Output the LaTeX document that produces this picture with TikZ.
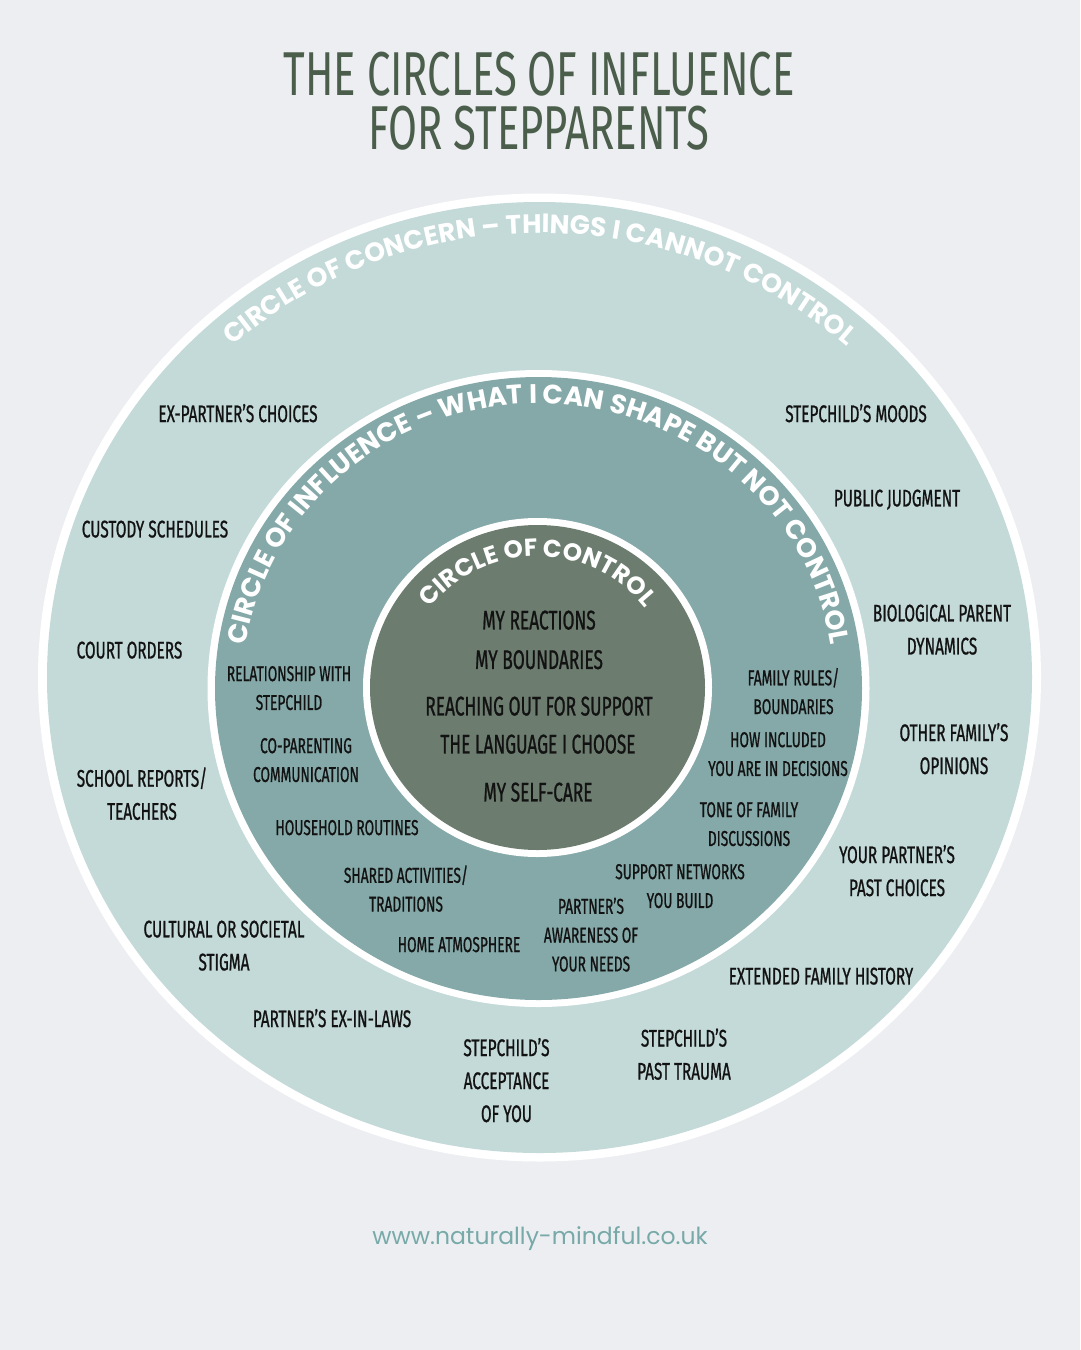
\documentclass[tikz,border=0pt]{standalone}
\usepackage{fontspec}
\usepackage{tikz}
\usetikzlibrary{decorations.text, calc}
\newfontfamily\bebas[FakeStretch=0.64, FakeBold=0.8]{Fira Sans}
\newfontfamily\titlefont[FakeStretch=0.675]{Fira Sans}
\newfontfamily\mont{Poppins}
\definecolor{pagebg}{RGB}{236,238,241}
\definecolor{concernfill}{RGB}{195,218,216}
\definecolor{influencefill}{RGB}{132,169,168}
\definecolor{controlfill}{RGB}{108,125,112}
\definecolor{titlegreen}{RGB}{74,94,75}
\definecolor{urlteal}{RGB}{120,169,169}
\definecolor{labelink}{RGB}{18,18,18}
\newcommand\arcfont{\mont\bfseries\color{white}}
\tikzset{
  concernlbl/.style={align=center, inner sep=0pt, text depth=0pt,
    text=labelink, font=\bebas\fontsize{24}{33}\selectfont},
  influencelbl/.style={align=center, inner sep=0pt, text depth=0pt,
    text=labelink, font=\bebas\fontsize{21.5}{28.8}\selectfont},
  controllbl/.style={inner sep=0pt, text depth=0pt,
    text=labelink, font=\bebas\fontsize{27}{27}\selectfont},
  arclbl/.style={decorate, decoration={text along path,
    text align=center, text={#1}}}
}

\begin{document}
\begin{tikzpicture}[x=1pt, y=1pt]

  \fill[pagebg] (0,0) rectangle (1080,-1350);

  % Title
  \node[font=\titlefont\fontsize{62}{54}\selectfont, text=titlegreen, align=center,
    text depth=0pt, inner sep=0pt] (title) at (539,-101)
    {THE CIRCLES OF INFLUENCE\\FOR STEPPARENTS};

  % The three circles
  \coordinate (concern) at (539.5,-677.5);
  \coordinate (influence) at (538.5,-688.5);
  \coordinate (control) at (537.5,-687.5);
  \fill[white] (concern) ellipse[x radius=501.5, y radius=484];
  \fill[concernfill] (concern) ellipse[x radius=492.5, y radius=475.5];
  \fill[white] (influence) ellipse[x radius=331, y radius=318.5];
  \fill[influencefill] (influence) ellipse[x radius=323.5, y radius=311.5];
  \fill[white] (control) ellipse[x radius=174.5, y radius=169.5];
  \fill[controlfill] (control) ellipse[x radius=167.5, y radius=162.5];

  % Curved headings
  \path[arclbl={|\arcfont\fontsize{26.5}{26.5}\selectfont|CIRCLE OF CONCERN – THINGS I CANNOT CONTROL}]
    ($(concern)+(180:461 and 444.5)$) arc[start angle=180, end angle=0, x radius=461, y radius=444.5];
  \path[arclbl={|\arcfont\fontsize{26.8}{26.8}\selectfont|CIRCLE OF INFLUENCE – WHAT I CAN SHAPE BUT NOT CONTROL}]
    ($(influence)+(190:296 and 285)$) arc[start angle=190, end angle=-10, x radius=296, y radius=285];
  \path[arclbl={|\arcfont\fontsize{24.5}{24.5}\selectfont|CIRCLE OF CONTROL}]
    ($(control)+(180:135 and 131)$) arc[start angle=180, end angle=0, x radius=135, y radius=131];

  % Circle of concern
  \node[concernlbl] (expartner) at (238,-413) {EX-PARTNER’S CHOICES};
  \node[concernlbl] (moods) at (856,-413) {STEPCHILD’S MOODS};
  \node[concernlbl] (judgment) at (897,-498) {PUBLIC JUDGMENT};
  \node[concernlbl] (custody) at (155,-529) {CUSTODY SCHEDULES};
  \node[concernlbl] (bioparent) at (942,-629.5) {BIOLOGICAL PARENT\\DYNAMICS};
  \node[concernlbl] (court) at (129.5,-650) {COURT ORDERS};
  \node[concernlbl] (opinions) at (954,-748.5) {OTHER FAMILY’S\\OPINIONS};
  \node[concernlbl] (school) at (142,-793.5) {SCHOOL REPORTS/\\TEACHERS};
  \node[concernlbl] (pastchoices) at (897,-870.5) {YOUR PARTNER’S\\PAST CHOICES};
  \node[concernlbl] (stigma) at (224,-945.5) {CULTURAL OR SOCIETAL\\STIGMA};
  \node[concernlbl] (history) at (821,-976) {EXTENDED FAMILY HISTORY};
  \node[concernlbl] (inlaws) at (332,-1018) {PARTNER’S EX-IN-LAWS};
  \node[concernlbl] (acceptance) at (506.5,-1080) {STEPCHILD’S\\ACCEPTANCE\\OF YOU};
  \node[concernlbl] (trauma) at (684,-1054) {STEPCHILD’S\\PAST TRAUMA};

  % Circle of influence
  \node[influencelbl] (relation) at (289,-688) {RELATIONSHIP WITH\\STEPCHILD};
  \node[influencelbl] (coparent) at (306,-760) {CO-PARENTING\\COMMUNICATION};
  \node[influencelbl] (routines) at (347,-827.5) {HOUSEHOLD ROUTINES};
  \node[influencelbl] (shared) at (406,-888.5) {SHARED ACTIVITIES/\\TRADITIONS};
  \node[influencelbl] (atmosphere) at (459,-944.5) {HOME ATMOSPHERE};
  \node[influencelbl] (awareness) at (591,-934.5) {PARTNER’S\\AWARENESS OF\\YOUR NEEDS};
  \node[influencelbl] (networks) at (680,-886) {SUPPORT NETWORKS\\YOU BUILD};
  \node[influencelbl] (tone) at (749,-824) {TONE OF FAMILY\\DISCUSSIONS};
  \node[influencelbl] (included) at (778,-754) {HOW INCLUDED\\YOU ARE IN DECISIONS};
  \node[influencelbl] (rules) at (793.5,-691) {FAMILY RULES/\\BOUNDARIES};

  % Circle of control
  \node[controllbl] (reactions) at (539,-620) {MY REACTIONS};
  \node[controllbl] (boundaries) at (539,-659.5) {MY BOUNDARIES};
  \node[controllbl] (reaching) at (539,-706) {REACHING OUT FOR SUPPORT};
  \node[controllbl] (language) at (538,-744) {THE LANGUAGE I CHOOSE};
  \node[controllbl] (selfcare) at (538,-792) {MY SELF-CARE};

  % Footer
  \node[font=\mont\fontsize{23.5}{23.5}\selectfont, text=urlteal] (url) at (540,-1239)
    {www.naturally-mindful.co.uk};

\end{tikzpicture}
\end{document}
